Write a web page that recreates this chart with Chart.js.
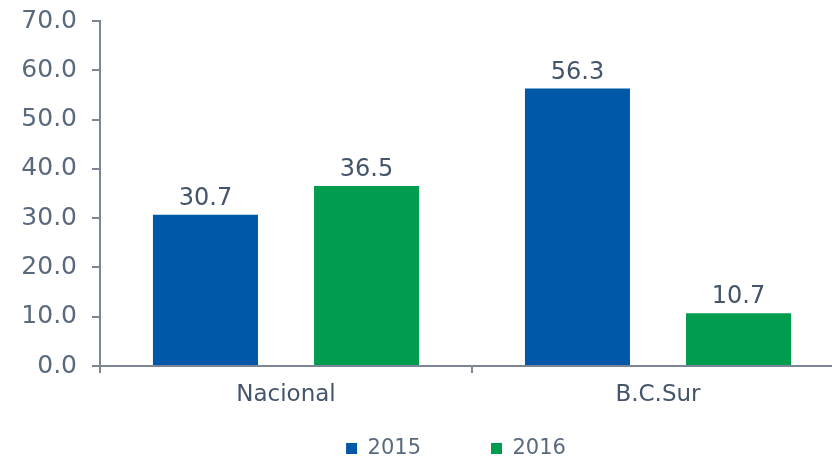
<!DOCTYPE html>
<html>
<head>
<meta charset="utf-8">
<script src="https://cdn.jsdelivr.net/npm/chart.js@4/dist/chart.umd.min.js"></script>
<style>
  html, body { margin: 0; padding: 0; background: #ffffff; overflow: hidden; }
  #wrap { width: 844px; height: 460px; }
</style>
</head>
<body>
<div id="wrap"><canvas id="c" width="844" height="460"></canvas></div>
<script>
const categories = ["Nacional", "B.C.Sur"];
const seriesNames = ["2015", "2016"];
const values2015 = [30.7, 56.3];
const values2016 = [36.5, 10.7];
const yTickMin = 0, yTickMax = 70, yTickStep = 10;

const blue = "#0058A8";
const green = "#009D4F";
const axisColor = "#7b8794";
const tickText = "#5a6a7c";
const darkText = "#44546a";
const FONT = "'DejaVu Sans', sans-serif";

const dataLabels = {
  id: "dataLabels",
  afterDatasetsDraw(chart) {
    const ctx = chart.ctx;
    ctx.save();
    ctx.font = "24px " + FONT;
    ctx.fillStyle = darkText;
    ctx.textAlign = "center";
    ctx.textBaseline = "alphabetic";
    chart.data.datasets.forEach((ds, di) => {
      const meta = chart.getDatasetMeta(di);
      meta.data.forEach((bar, i) => {
        ctx.fillText(Number(ds.data[i]).toFixed(1), bar.x, bar.y - 10);
      });
    });
    ctx.restore();
  }
};

const legendShift = {
  id: "legendShift",
  afterLayout(chart) {
    const lg = chart.legend;
    if (!lg) return;
    const dx = 34, dy = -52;
    lg.left += dx; lg.right += dx;
    lg.top += dy;
    lg.bottom = chart.height;
  }
};

new Chart(document.getElementById("c"), {
  type: "bar",
  data: {
    labels: categories,
    datasets: [
      { label: seriesNames[0], data: values2015, backgroundColor: blue, borderWidth: 0,
        categoryPercentage: 0.866, barPercentage: 0.652 },
      { label: seriesNames[1], data: values2016, backgroundColor: green, borderWidth: 0,
        categoryPercentage: 0.866, barPercentage: 0.652 }
    ]
  },
  options: {
    responsive: false,
    animation: false,
    layout: { padding: { top: 21, left: 0, right: 0, bottom: 0 } },
    scales: {
      x: {
        offset: true,
        grid: { display: true, offset: true, drawOnChartArea: false, drawTicks: true,
                tickLength: 7, color: axisColor, lineWidth: 2 },
        border: { display: true, color: axisColor, width: 2 },
        ticks: { color: darkText, font: { family: FONT, size: 23 }, padding: 8, maxRotation: 0 },
        afterFit(scale) { scale.height = 54; scale.paddingLeft = 0; scale.paddingRight = 0; }
      },
      y: {
        min: yTickMin, max: yTickMax,
        ticks: { stepSize: yTickStep, color: tickText, font: { family: FONT, size: 25 }, padding: 15,
                 callback: v => Number(v).toFixed(1) },
        grid: { display: true, drawOnChartArea: false, drawTicks: true, tickLength: 8,
                color: axisColor, lineWidth: 2 },
        border: { display: true, color: axisColor, width: 2 },
        afterFit(scale) { scale.width = 100; scale.paddingTop = 0; scale.paddingBottom = 0; }
      }
    },
    plugins: {
      legend: {
        display: true,
        position: "bottom",
        maxHeight: 40,
        labels: { boxWidth: 11, boxHeight: 11, padding: 70, color: tickText,
                  font: { family: FONT, size: 21 } }
      },
      tooltip: { enabled: false }
    }
  },
  plugins: [dataLabels, legendShift]
});
</script>
</body>
</html>
